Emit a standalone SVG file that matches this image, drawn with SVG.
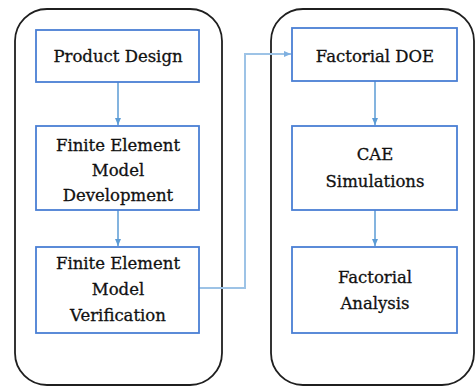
<svg xmlns="http://www.w3.org/2000/svg" width="476" height="387" viewBox="0 0 476 387">
<defs>
<style>
.cont{fill:none;stroke:#1f1f1f;stroke-width:1.8}
.box{fill:#fff;stroke:#4a7fd4;stroke-width:1.8}
.t{font-family:"DejaVu Serif","Liberation Serif",serif;font-size:16.5px;fill:#111;stroke:#111;stroke-width:0.3;text-anchor:middle}
.arr{fill:none;stroke:#5b9bd5;stroke-width:1.5}
.lnk{fill:none;stroke:#9dc3e6;stroke-width:2}
</style>
<marker id="ah" markerWidth="8" markerHeight="8" refX="7" refY="4" orient="auto" markerUnits="userSpaceOnUse">
<path d="M0,1 L7,4 L0,7 Z" fill="#5b9bd5"/>
</marker>
<marker id="ah2" markerWidth="8" markerHeight="8" refX="7" refY="4" orient="auto" markerUnits="userSpaceOnUse">
<path d="M0,1 L7,4 L0,7 Z" fill="#7fb0e0"/>
</marker>
</defs>
<rect x="0" y="0" width="476" height="387" fill="#fff"/>
<g id="containers">
<rect class="cont" x="15" y="9" width="207" height="376" rx="32" ry="32"/>
<rect class="cont" x="271" y="9" width="203" height="376" rx="32" ry="32"/>
</g>
<g id="connectors">
<line class="arr" x1="118" y1="82" x2="118" y2="125" marker-end="url(#ah)"/>
<line class="arr" x1="118" y1="210" x2="118" y2="246" marker-end="url(#ah)"/>
<line class="arr" x1="375" y1="81" x2="375" y2="125" marker-end="url(#ah)"/>
<line class="arr" x1="375" y1="210" x2="375" y2="246" marker-end="url(#ah)"/>
<polyline class="lnk" points="199,288 245,288 245,54 291,54" marker-end="url(#ah2)"/>
</g>
<g id="n1"><rect class="box" x="36" y="30" width="163" height="52"/><text class="t" x="118" y="62">Product Design</text></g>
<g id="n2"><rect class="box" x="36" y="126" width="163" height="84"/><text class="t" x="118" y="151">Finite Element</text><text class="t" x="118" y="176">Model</text><text class="t" x="118" y="201">Development</text></g>
<g id="n3"><rect class="box" x="36" y="247" width="163" height="86"/><text class="t" x="118" y="269">Finite Element</text><text class="t" x="118" y="295">Model</text><text class="t" x="118" y="321">Verification</text></g>
<g id="n4"><rect class="box" x="292" y="28" width="165" height="53"/><text class="t" x="375" y="62">Factorial DOE</text></g>
<g id="n5"><rect class="box" x="292" y="126" width="165" height="84"/><text class="t" x="375" y="160">CAE</text><text class="t" x="375" y="187">Simulations</text></g>
<g id="n6"><rect class="box" x="292" y="247" width="165" height="86"/><text class="t" x="375" y="283">Factorial</text><text class="t" x="375" y="309">Analysis</text></g>
</svg>
